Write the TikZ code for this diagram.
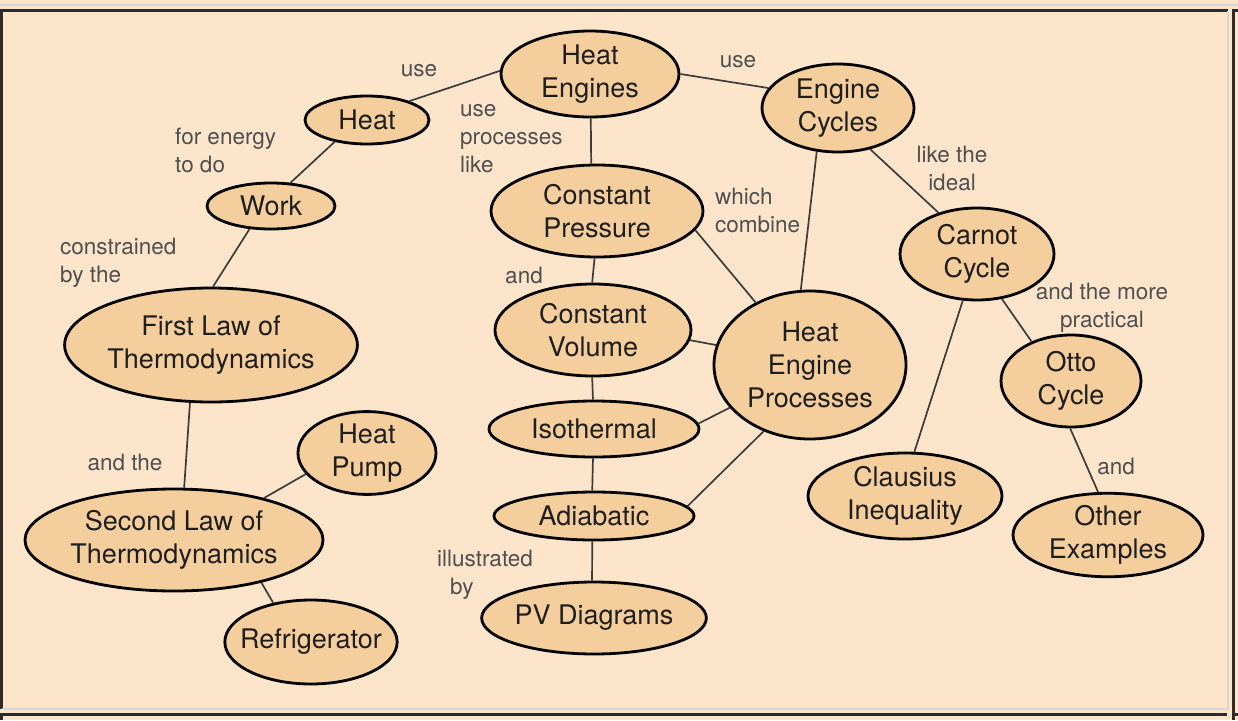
\documentclass[tikz,border=0pt]{standalone}
\usepackage{fontspec}
\setmainfont{TeX Gyre Heros}
\usetikzlibrary{shapes.geometric}
\definecolor{bg}{HTML}{FCE5CB}
\definecolor{nodefill}{HTML}{F5CE9E}
\definecolor{edgec}{HTML}{3C3C3C}
\definecolor{labc}{HTML}{4F4F4F}
\definecolor{txtc}{HTML}{1E1E1E}
\definecolor{framegray}{HTML}{D6D6D6}
\definecolor{framedark}{HTML}{2E2A28}
\begin{document}
\begin{tikzpicture}[x=1pt,y=-1pt,
  concept/.style={ellipse, draw=black, line width=2.8pt, fill=nodefill, inner sep=0pt,
    align=center, text=txtc, font=\fontsize{27}{33}\selectfont},
  lab/.style={text=labc, font=\fontsize{22.5}{28}\selectfont, inner sep=0pt},
  link/.style={draw=edgec, line width=1.7pt},
  gframe/.style={draw=framegray, line width=2pt},
  dframe/.style={draw=framedark, line width=2.5pt},
]
\useasboundingbox (0,0) rectangle (1238,720);
\fill[bg] (0,0) rectangle (1238,720);
% frame
\draw[gframe] (0,4.5) -- (1238,4.5);
\draw[dframe] (1.5,709) -- (1.5,10.5) -- (1228,10.5);
\draw[gframe] (1228,10.5) -- (1228,709) -- (1.5,709);
\draw[dframe] (1233.5,720) -- (1233.5,10.5) -- (1238,10.5);
\draw[dframe] (1.5,720) -- (1.5,714.5) -- (1227,714.5);
\draw[dframe] (1233.5,714.5) -- (1238,714.5);

% concepts
\node[concept, minimum width=178, minimum height=86] (he) at (590,74) {Heat\\Engines};
\node[concept, minimum width=124, minimum height=48] (heat) at (367,120) {Heat};
\node[concept, minimum width=152, minimum height=88] (ec) at (838,108) {Engine\\Cycles};
\node[concept, minimum width=128, minimum height=46] (work) at (271,206) {Work};
\node[concept, minimum width=212, minimum height=92] (cp) at (597,211) {Constant\\Pressure};
\node[concept, minimum width=154, minimum height=92] (carnot) at (977,254) {Carnot\\Cycle};
\node[concept, minimum width=292, minimum height=114] (first) at (211,345) {First Law of\\Thermodynamics};
\node[concept, minimum width=196, minimum height=92] (cv) at (593,330) {Constant\\Volume};
\node[concept, minimum width=192, minimum height=148] (hep) at (810,365) {Heat\\Engine\\Processes};
\node[concept, minimum width=140, minimum height=92] (otto) at (1071,381) {Otto\\Cycle};
\node[concept, minimum width=210, minimum height=56] (iso) at (594,429) {Isothermal};
\node[concept, minimum width=138, minimum height=78] (pump) at (367,453) {Heat\\Pump};
\node[concept, minimum width=298, minimum height=102] (second) at (174,540) {Second Law of\\Thermodynamics};
\node[concept, minimum width=194, minimum height=86] (claus) at (905,496) {Clausius\\Inequality};
\node[concept, minimum width=200, minimum height=48] (adia) at (594,516) {Adiabatic};
\node[concept, minimum width=190, minimum height=82] (other) at (1108,535) {Other\\Examples};
\node[concept, minimum width=224, minimum height=72] (pv) at (594,618) {PV Diagrams};
\node[concept, inner xsep=-10pt, minimum width=172, minimum height=84] (fridge) at (311,642) {Refrigerator};

% links
\draw[link] (heat.24.5) -- (he.178);
\draw[link] (he.0) -- (ec.164.6);
\draw[link] (he.-89) -- (cp.97);
\draw[link] (heat.214) -- (work.50.4);
\draw[link] (work.227.5) -- (first.88);
\draw[link] (first.250) -- (second.79);
\draw[link] (second.25.6) -- (pump.199);
\draw[link] (second.-26.3) -- (fridge.134);
\draw[link] (ec.-52.7) -- (carnot.133);
\draw[link] (ec.244.5) -- (hep.97.6);
\draw[link] (cp.-11) -- (hep.131);
\draw[link] (cp.-93) -- (cv.91);
\draw[link] (cv.-6) -- (hep.168);
\draw[link] (cv.-91) -- (iso.92);
\draw[link] (iso.3.3) -- (hep.208);
\draw[link] (iso.-92) -- (adia.94);
\draw[link] (adia.6.7) -- (hep.235);
\draw[link] (adia.-94) -- (pv.93);
\draw[link] (carnot.253) -- (claus.78.4);
\draw[link] (carnot.-61.5) -- (otto.135.7);
\draw[link] (otto.-91) -- (other.103);

% link labels
\node[lab] (l1) at (419,71) {use};
\node[lab] (l2) at (738,62) {use};
\node[lab, anchor=west, align=left] (l3) at (460,139) {use\\processes\\like};
\node[lab, anchor=west, align=left] (l4) at (175,150) {for energy\\to do};
\node[lab, anchor=west, align=left] (l5) at (60,263) {constrained\\by the};
\node[lab] (l6) at (125,462) {and the};
\node[lab, align=center] (l7) at (952,168) {like the\\ideal};
\node[lab, anchor=west, align=left] (l8) at (715,210) {which\\combine};
\node[lab] (l9) at (524,275) {and};
\node[lab, align=center] (l10) at (1102,308) {and the more\\practical};
\node[lab] (l11) at (1116,466) {and};
\node[lab, anchor=west, align=left] (l12) at (437,575) {illustrated\\\hspace{13pt}by};
\end{tikzpicture}
\end{document}
